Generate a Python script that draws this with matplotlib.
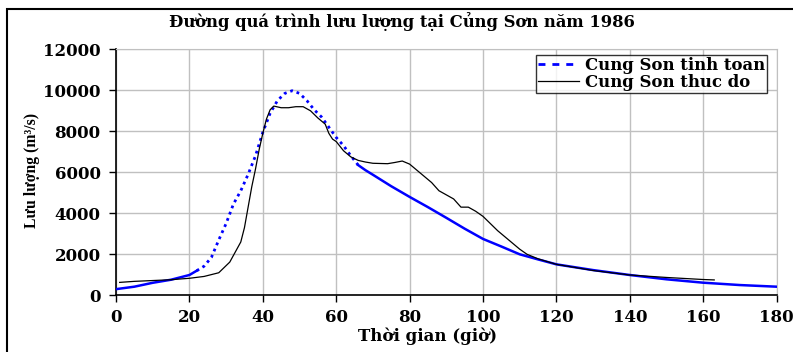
import numpy as np
import matplotlib
matplotlib.use("Agg")
import matplotlib.pyplot as plt
from matplotlib.lines import Line2D
from matplotlib.patches import Rectangle

plt.rcParams['font.family'] = ['DejaVu Serif']
plt.rcParams['font.weight'] = 'bold'

# Cung Son tinh toan (computed discharge)
t_calc = [0, 5, 10, 15, 20, 22, 24, 26, 28, 30, 32, 34, 36, 38, 40, 42, 44, 46, 48,
          50, 52, 54, 56, 58, 60, 62, 64, 66, 68, 70, 75, 80, 85, 90, 95, 100, 105,
          110, 115, 120, 130, 140, 150, 160, 170, 180]
q_calc = [300, 420, 610, 760, 990, 1200, 1420, 1850, 2700, 3500, 4450, 5100, 5900,
          6800, 7950, 8880, 9500, 9850, 9980, 9850, 9500, 9050, 8700, 8200, 7700,
          7300, 6800, 6350, 6100, 5880, 5320, 4800, 4300, 3780, 3250, 2750, 2380,
          2000, 1750, 1510, 1230, 990, 780, 615, 500, 420]

# Cung Son thuc do (observed discharge)
t_obs = [1, 5, 10, 15, 20, 24, 28, 31, 34, 35, 36, 37, 38, 39, 40, 41, 42, 43, 45,
         47, 49, 51, 53, 55, 57, 58, 59, 60, 62, 64, 66, 68, 70, 74, 76, 78, 80, 82,
         84, 86, 88, 90, 92, 94, 96, 98, 100, 102, 104, 106, 108, 110, 112, 115,
         120, 130, 140, 150, 160, 163]
q_obs = [630, 680, 720, 760, 830, 920, 1100, 1620, 2600, 3300, 4300, 5300, 6150,
         7100, 7900, 8600, 9050, 9230, 9150, 9150, 9200, 9200, 9000, 8650, 8350,
         7900, 7620, 7500, 7050, 6750, 6580, 6500, 6440, 6420, 6480, 6550, 6400,
         6100, 5800, 5500, 5100, 4900, 4700, 4300, 4300, 4100, 3850, 3500, 3150,
         2850, 2550, 2250, 2000, 1780, 1510, 1210, 990, 870, 770, 750]

x_ticks = [0, 20, 40, 60, 80, 100, 120, 140, 160, 180]
y_ticks = [0, 2000, 4000, 6000, 8000, 10000, 12000]

fig = plt.figure(figsize=(7.93, 3.52), dpi=100)
ax = fig.add_axes([116 / 793, 1 - 295.3 / 352, 660.6 / 793, 246 / 352])

tc = np.array(t_calc)
qc = np.array(q_calc)
# steep part looks dotted in the original, flat parts look solid
lo = tc <= 22
hi = tc >= 66
mid = (tc >= 22) & (tc <= 66)
ax.plot(tc[lo], qc[lo], color='#0000ff', lw=1.8, zorder=3)
ax.plot(tc[hi], qc[hi], color='#0000ff', lw=1.8, zorder=3)
ax.plot(tc[mid], qc[mid], color='#0000ff', lw=2.0, linestyle=(0, (1.0, 1.4)), zorder=3)

ax.plot(t_obs, q_obs, color='black', lw=0.9, zorder=4)

ax.set_xlim(0, 180)
ax.set_ylim(0, 12000)
ax.set_xticks(x_ticks)
ax.set_yticks(y_ticks)
ax.tick_params(axis='both', labelsize=12, direction='out', length=5, width=1)
ax.tick_params(axis='x', pad=5)
ax.tick_params(axis='y', pad=6)
ax.grid(True, color='#c0c0c0', lw=1)
ax.set_axisbelow(True)
for s in ['top', 'right']:
    ax.spines[s].set_color('#c0c0c0')
for s in ['left', 'bottom']:
    ax.spines[s].set_color('black')
    ax.spines[s].set_linewidth(1.2)

fig.text(428 / 793, 1 - 336 / 352, 'Thời gian (giờ)', ha='center', va='center',
         fontsize=12, fontweight='bold')
fig.text(32 / 793, 1 - 170 / 352, 'Lưu lượng (m³/s)', ha='center', va='center',
         rotation=90, fontsize=11.3, fontweight='bold', family='Liberation Serif')
fig.text(402 / 793, 1 - 22 / 352, 'Đường quá trình lưu lượng tại Củng Sơn năm 1986',
         ha='center', va='center', fontsize=11.8, fontweight='bold')

handles = [Line2D([], [], color='#0000ff', lw=2, linestyle=(0, (2.5, 2.5))),
           Line2D([], [], color='black', lw=0.9)]
leg = ax.legend(handles, ['Cung Son tinh toan', 'Cung Son thuc do'],
                loc='upper right', bbox_to_anchor=(0.985, 0.975), fontsize=11.9,
                frameon=True, fancybox=False, borderpad=0.1, labelspacing=0.0,
                handlelength=2.5, handletextpad=0.35, borderaxespad=0)
leg.get_frame().set_edgecolor('black')
leg.get_frame().set_linewidth(1)

fig.patches.append(Rectangle((7 / 793, -0.05), 1.1, 1.05 - 9 / 352, transform=fig.transFigure,
                             fill=False, edgecolor='black', lw=1.5))

fig.savefig('out.png', dpi=100)
